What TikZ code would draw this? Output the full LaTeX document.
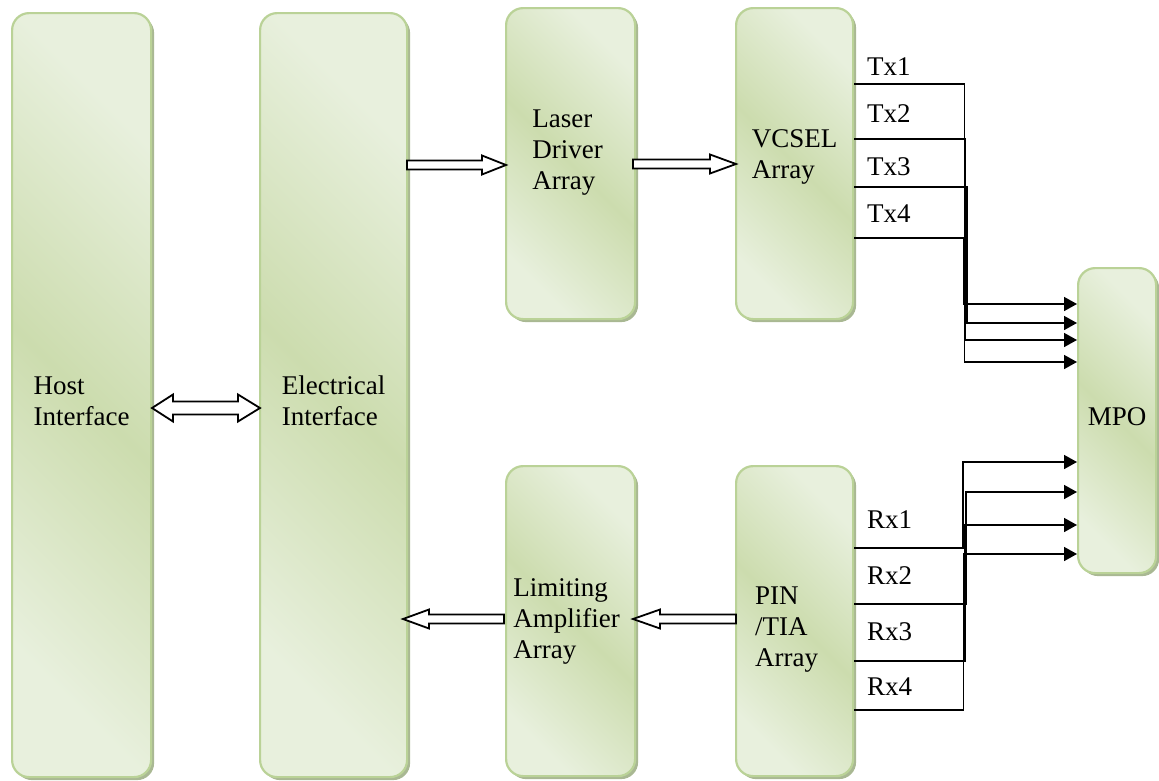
\documentclass[tikz,border=0pt]{standalone}
\usepackage{fontspec}
\setmainfont{Liberation Serif}
\usetikzlibrary{arrows.meta,calc}
\definecolor{gl}{HTML}{E8F0DD}
\definecolor{gd}{HTML}{CCDCAE}
\definecolor{bord}{HTML}{BAD297}
\definecolor{shad}{HTML}{A9B893}
\pgfdeclarehorizontalshading{boxsh}{100bp}{color(0bp)=(gl); color(25bp)=(gl); color(50bp)=(gd); color(75bp)=(gl); color(100bp)=(gl)}
\begin{document}
\begin{tikzpicture}[x=1pt,y=-1pt,
  box/.style={rounded corners=17pt, draw=bord, line width=2.2pt, shading=boxsh, shading angle=45,
    inner sep=0pt, anchor=north west,
    preaction={fill=shad, transform canvas={shift={(3pt,-3pt)}}}},
  txt/.style={align=left, font=\fontsize{27}{31}\selectfont, inner sep=0pt},
  lbl/.style={font=\fontsize{27}{31}\selectfont, inner sep=0pt, anchor=west},
  wire/.style={line width=1.6pt},
  arr/.style={wire, -{Triangle[length=13pt,width=14pt]}},
  barrow/.style={draw=black, fill=white, line width=1.8pt, line join=miter}]
\useasboundingbox (0,0) rectangle (1159,780);

% boxes
\node[box, minimum width=139pt, minimum height=764pt] (host) at (11,12) {};
\node[box, minimum width=147pt, minimum height=764pt] (elec) at (259,12) {};
\node[box, minimum width=129pt, minimum height=311pt] (laser) at (505,7) {};
\node[box, minimum width=117pt, minimum height=311pt] (vcsel) at (735,7) {};
\node[box, minimum width=129pt, minimum height=310pt] (lim) at (505,465) {};
\node[box, minimum width=117pt, minimum height=310pt] (pin) at (735,465) {};
\node[box, minimum width=78pt, minimum height=305pt] (mpo) at (1077,267) {};

% box texts
\node[txt] (hostt) at ($(host.center)+(0,6)$) {Host\\Interface};
\node[txt] (elect) at ($(elec.center)+(0,6)$) {Electrical\\Interface};
\node[txt] (lasert) at ($(laser.center)+(-3,-11)$) {Laser\\Driver\\Array};
\node[txt] (vcselt) at ($(vcsel.center)+(0,-7)$) {VCSEL\\Array};
\node[txt] (limt) at ($(lim.center)+(-4,0)$) {Limiting\\Amplifier\\Array};
\node[txt] (pint) at ($(pin.center)+(-8,8)$) {PIN\\/TIA\\Array};
\node[txt] (mpot) at ($(mpo.center)+(0,-4)$) {MPO};

% hollow block arrows
\draw[barrow] (152,408) -- (173,394.5) -- (173,401.5) -- (238,401.5) -- (238,394.5) -- (260,408)
  -- (238,421.5) -- (238,414.5) -- (173,414.5) -- (173,421.5) -- cycle;
\draw[barrow] (407,160.5) -- (482,160.5) -- (482,155.5) -- (506,165) -- (482,174.5) -- (482,169.5) -- (407,169.5) -- cycle;
\draw[barrow] (633,159.5) -- (710,159.5) -- (710,154.5) -- (736,164) -- (710,173.5) -- (710,168.5) -- (633,168.5) -- cycle;
\draw[barrow] (736,614.5) -- (660,614.5) -- (660,609.5) -- (633,619) -- (660,628.5) -- (660,623.5) -- (736,623.5) -- cycle;
\draw[barrow] (504,614.5) -- (429,614.5) -- (429,609.5) -- (403,619) -- (429,628.5) -- (429,623.5) -- (504,623.5) -- cycle;

% Tx labels
\node[lbl] (tx1) at (867,67) {Tx1};
\node[lbl] (tx2) at (867,114) {Tx2};
\node[lbl] (tx3) at (867,167) {Tx3};
\node[lbl] (tx4) at (867,214) {Tx4};
% Rx labels
\node[lbl] (rx1) at (867,520) {Rx1};
\node[lbl] (rx2) at (867,576) {Rx2};
\node[lbl] (rx3) at (867,632) {Rx3};
\node[lbl] (rx4) at (867,687) {Rx4};

% Tx wiring
\draw[arr] (vcsel.east |- 0,84) -| (964.5,362) -- (mpo.west |- 0,362);
\draw[arr] (vcsel.east |- 0,139) -| (965.5,340) -- (mpo.west |- 0,340);
\draw[arr] (vcsel.east |- 0,187) -| (967,323) -- (mpo.west |- 0,323);
\draw[arr] (vcsel.east |- 0,238) -| (964,304) -- (mpo.west |- 0,304);

% Rx wiring
\draw[arr] (pin.east |- 0,548) -| (963,462) -- (mpo.west |- 0,462);
\draw[arr] (pin.east |- 0,604) -| (966,492) -- (mpo.west |- 0,492);
\draw[arr] (pin.east |- 0,661) -| (965,525) -- (mpo.west |- 0,525);
\draw[arr] (pin.east |- 0,710) -| (963.5,554) -- (mpo.west |- 0,554);
\end{tikzpicture}
\end{document}
